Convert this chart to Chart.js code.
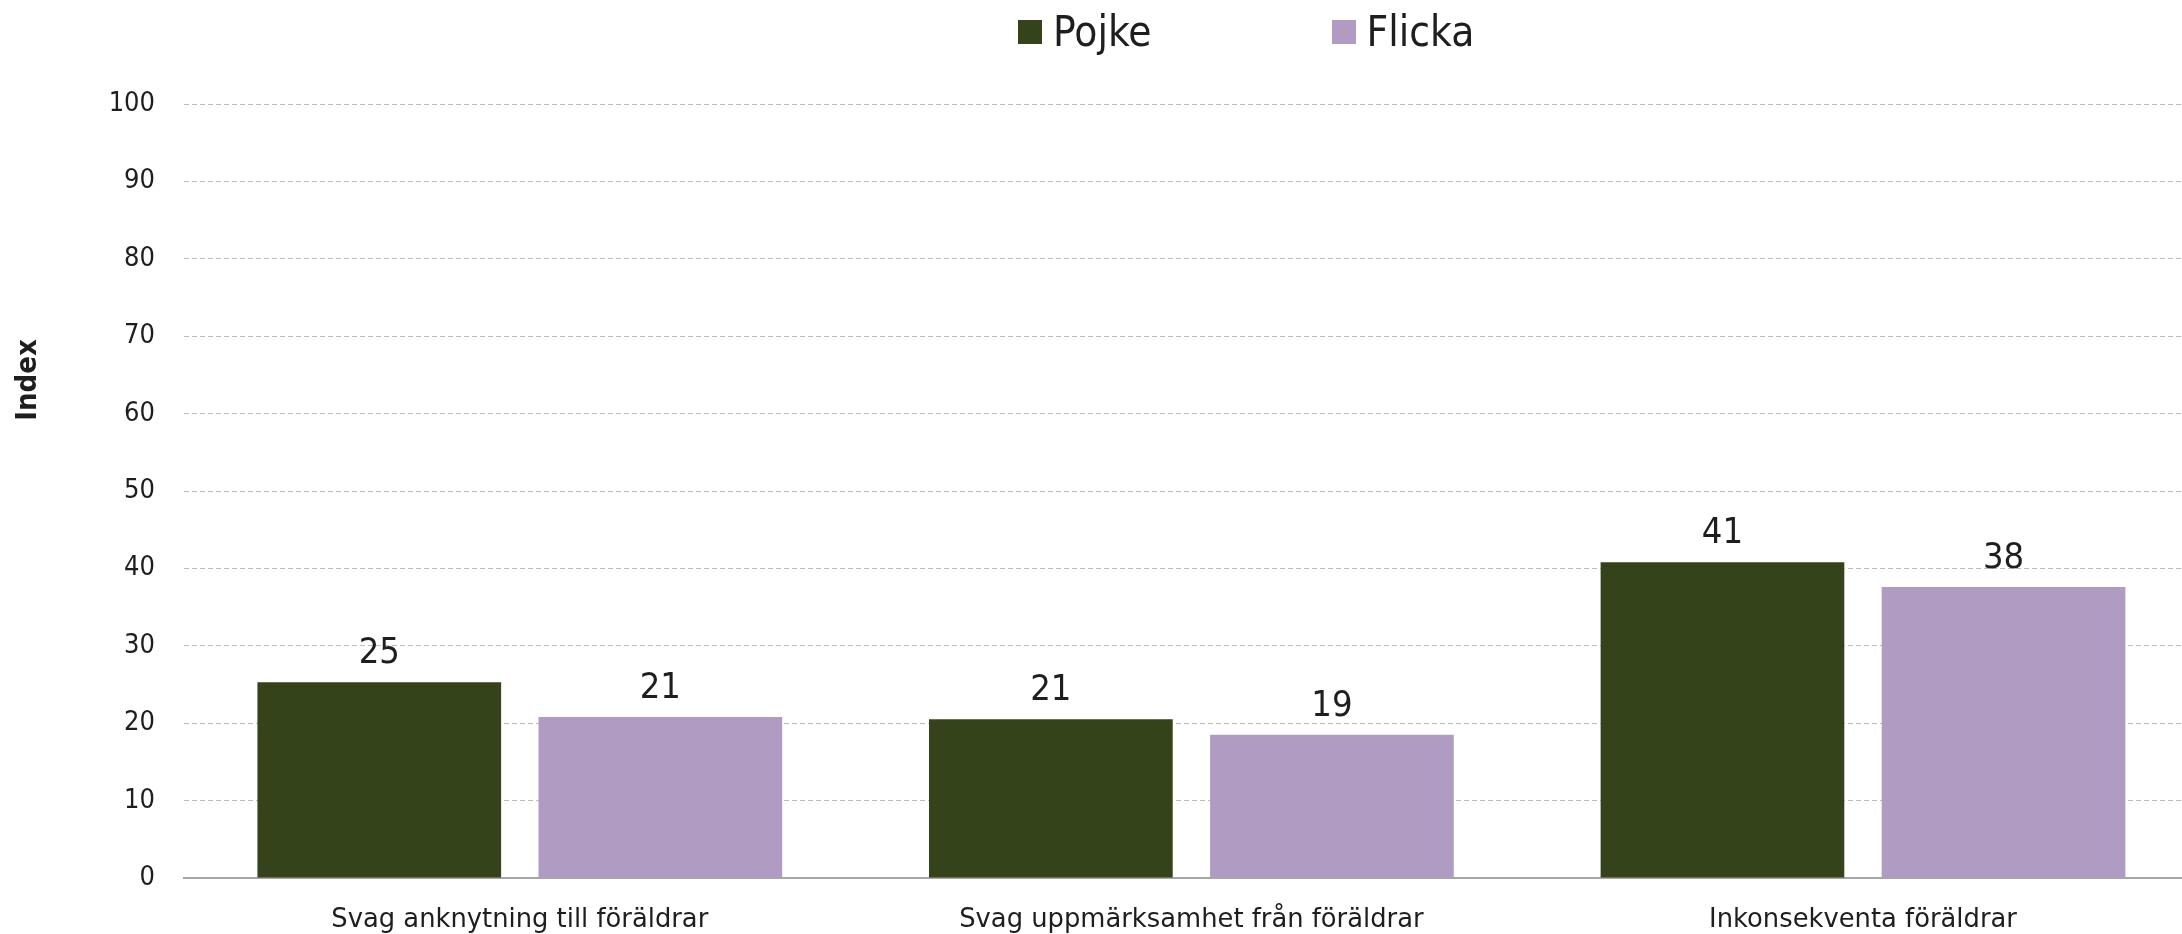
<!DOCTYPE html>
<html>
<head>
<meta charset="utf-8">
<script src="https://cdn.jsdelivr.net/npm/chart.js@4.4.1/dist/chart.umd.min.js"></script>
<style>
  html, body { margin: 0; padding: 0; background: #fff; overflow: hidden; }
  #wrap { position: relative; width: 2182px; height: 934px; }
  #legend {
    position: absolute; left: 1018px; top: 11px;
    display: flex; gap: 180px;
    font-family: 'DejaVu Sans Condensed', 'DejaVu Sans', sans-serif;
    font-size: 42px; line-height: 42px; color: #1e1e1e;
  }
  #legend .item { display: flex; align-items: center; }
  #legend .box { width: 24px; height: 24px; margin-right: 11px; }
</style>
</head>
<body>
<div id="wrap">
  <canvas id="chart"></canvas>
  <div id="legend"></div>
</div>
<script>
// categories and values
const categories = ['Svag anknytning till föräldrar', 'Svag uppmärksamhet från föräldrar', 'Inkonsekventa föräldrar'];
const pojke = [25.3, 20.5, 40.8];
const flicka = [20.8, 18.5, 37.6];
const seriesNames = ['Pojke', 'Flicka'];
const seriesColors = ['#344319', '#b09cc2'];
const yTitle = 'Index';

const FONT = "'DejaVu Sans Condensed', 'DejaVu Sans', sans-serif";
const FONT_WIDE = "'DejaVu Sans', sans-serif";
Chart.defaults.font.family = FONT;
Chart.defaults.color = '#1e1e1e';

// value labels above the bars
const barLabels = {
    id: 'barLabels',
    afterDatasetsDraw(chart) {
        const ctx = chart.ctx;
        ctx.save();
        ctx.font = '36px ' + FONT;
        ctx.fillStyle = '#1e1e1e';
        ctx.textAlign = 'center';
        ctx.textBaseline = 'alphabetic';
        chart.data.datasets.forEach((ds, i) => {
            chart.getDatasetMeta(i).data.forEach((bar, j) => {
                ctx.fillText(Math.round(ds.data[j].y), bar.x, bar.y - 19);
            });
        });
        ctx.restore();
    }
};

// rotated y axis title
const axisTitle = {
    id: 'axisTitle',
    afterDraw(chart) {
        const ctx = chart.ctx;
        ctx.save();
        ctx.translate(28, 380);
        ctx.rotate(-Math.PI / 2);
        ctx.font = 'bold 29px ' + FONT;
        ctx.fillStyle = '#1e1e1e';
        ctx.textAlign = 'center';
        ctx.textBaseline = 'middle';
        ctx.fillText(yTitle, 0, 0);
        ctx.restore();
    }
};

const toPoints = arr => arr.map((v, i) => ({ x: i, y: v }));

const chart = new Chart(document.getElementById('chart'), {
    type: 'bar',
    data: {
        datasets: [
            { label: seriesNames[0], data: toPoints(pojke), backgroundColor: seriesColors[0] },
            { label: seriesNames[1], data: toPoints(flicka), backgroundColor: seriesColors[1] }
        ]
    },
    options: {
        responsive: true,
        maintainAspectRatio: false,
        animation: false,
        categoryPercentage: 0.837,
        barPercentage: 0.867,
        layout: { padding: { top: 104, left: 0, right: 0, bottom: 0 } },
        plugins: {
            legend: { display: false },
            tooltip: { enabled: false }
        },
        scales: {
            x: {
                type: 'linear',
                position: 'bottom',
                offset: false,
                // plot area runs a little past the right edge of the picture
                min: -0.5,
                max: 2.475,
                grid: { display: false, offset: false },
                border: { display: true, color: '#a6a6a6', width: 2 },
                ticks: {
                    stepSize: 1,
                    includeBounds: false,
                    autoSkip: false,
                    maxRotation: 0,
                    padding: 19,
                    font: { size: 25.8, family: FONT_WIDE },
                    color: '#1e1e1e',
                    callback: v => Number.isInteger(v) ? categories[v] : ''
                },
                afterFit: s => { s.height = 56; }
            },
            y: {
                min: 0,
                max: 100,
                ticks: { stepSize: 10, padding: 29, font: { size: 27 }, color: '#1e1e1e' },
                grid: {
                    drawTicks: false,
                    lineWidth: 1,
                    color: c => c.tick && c.tick.value === 0 ? 'rgba(0,0,0,0)' : '#bdbdbd'
                },
                border: { display: false, dash: [5, 3] },
                afterFit: s => { s.width = 184; }
            }
        }
    },
    plugins: [barLabels, axisTitle]
});

// html legend built from the series
const legend = document.getElementById('legend');
seriesNames.forEach((name, i) => {
    const item = document.createElement('div');
    item.className = 'item';
    const box = document.createElement('span');
    box.className = 'box';
    box.style.background = seriesColors[i];
    const txt = document.createElement('span');
    txt.textContent = name;
    item.appendChild(box);
    item.appendChild(txt);
    legend.appendChild(item);
});
</script>
</body>
</html>
